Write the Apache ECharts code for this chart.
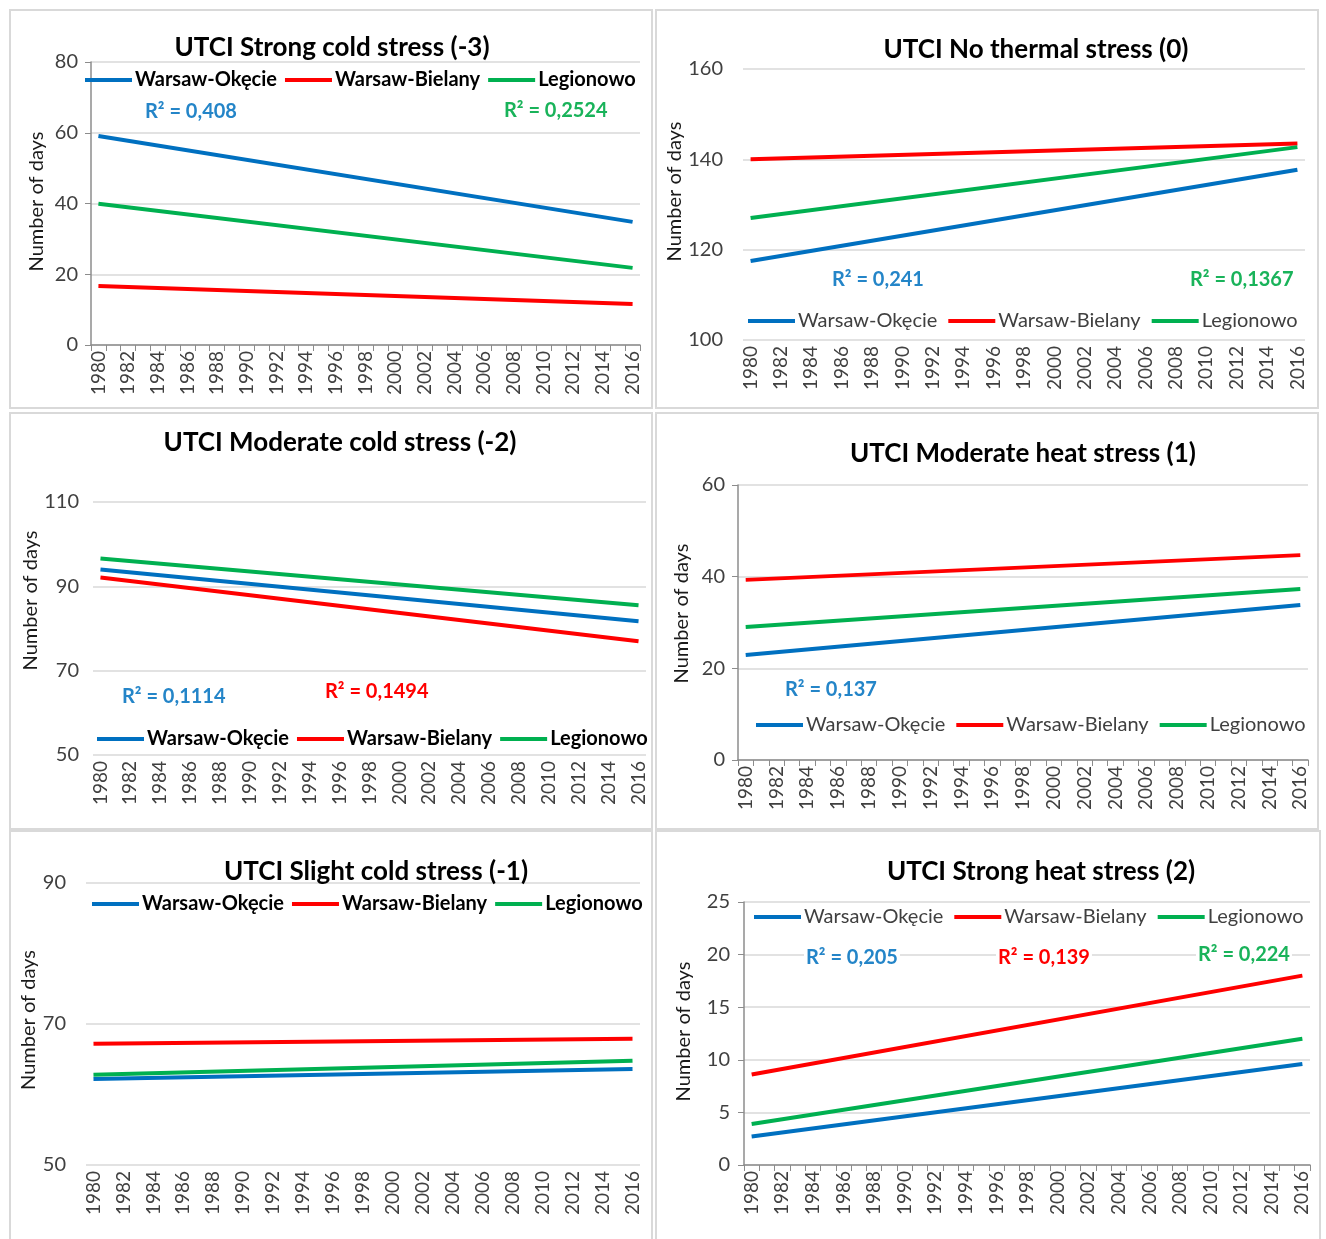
<!DOCTYPE html>
<html>
<head>
<meta charset="utf-8">
<script src="https://cdn.jsdelivr.net/npm/echarts@6/dist/echarts.min.js"></script>
<style>
  html, body { margin: 0; padding: 0; background: #fff; }
  #main { width: 1326px; height: 1239px; }
</style>
</head>
<body>
<div id="main"></div>
<script>
// categories
const years = ['1980', '1981', '1982', '1983', '1984', '1985', '1986', '1987', '1988', '1989',
  '1990', '1991', '1992', '1993', '1994', '1995', '1996', '1997', '1998', '1999',
  '2000', '2001', '2002', '2003', '2004', '2005', '2006', '2007', '2008', '2009',
  '2010', '2011', '2012', '2013', '2014', '2015', '2016'];

const panelTitles = [
  'UTCI Strong cold stress (-3)',
  'UTCI No thermal stress (0)',
  'UTCI Moderate cold stress (-2)',
  'UTCI Moderate heat stress (1)',
  'UTCI Slight cold stress (-1)',
  'UTCI Strong heat stress (2)'
];

const stations = ['Warsaw-Okęcie', 'Warsaw-Bielany', 'Legionowo'];

// trend line values [1980, 2016] for each panel
const okecieTrend = [[59.1, 34.8], [117.5, 137.7], [94.0, 81.7], [22.9, 33.8], [62.2, 63.6], [2.7, 9.6]];
const bielanyTrend = [[16.7, 11.6], [140.0, 143.5], [92.1, 77.0], [39.3, 44.7], [67.2, 67.9], [8.6, 18.0]];
const legionowoTrend = [[39.9, 21.8], [127.0, 142.7], [96.6, 85.5], [29.0, 37.3], [62.8, 64.8], [3.9, 12.0]];

// y axis ticks
const yMin = [0, 100, 50, 0, 50, 0];
const yMax = [80, 160, 110, 60, 90, 25];
const yStep = [20, 20, 20, 20, 20, 5];

// R² labels per panel: [station index, text]
const r2Labels = [
  [[0, 'R² = 0,408'], [2, 'R² = 0,2524']],
  [[0, 'R² = 0,241'], [2, 'R² = 0,1367']],
  [[0, 'R² = 0,1114'], [1, 'R² = 0,1494']],
  [[0, 'R² = 0,137']],
  [],
  [[0, 'R² = 0,205'], [1, 'R² = 0,139'], [2, 'R² = 0,224']]
];

const lineColors = ['#0070C0', '#FF0000', '#00B050'];
const labelColors = ['#2485C8', '#FF0000', '#19B35A'];
const trends = [okecieTrend, bielanyTrend, legionowoTrend];

// layout (pixels)
const grids = [
  { left: 91, top: 62, width: 549, height: 283 },
  { left: 743, top: 69, width: 562, height: 271 },
  { left: 93, top: 502, width: 553, height: 253 },
  { left: 738, top: 485, width: 570, height: 275 },
  { left: 86, top: 883, width: 554, height: 282 },
  { left: 744, top: 902, width: 566, height: 263 }
];
const axisShown = [true, false, false, true, false, true];
const titlePos = [[332, 51], [1036, 53], [340, 446], [1023, 457], [376, 875], [1041, 875]];
const legendPos = [[85, 82], [748, 323], [97, 741], [756, 727], [92, 906], [754, 919]];
const legendBold = [true, false, true, false, true, false];
const nameGap = [44, 54, 46, 46, 39, 50];
const nameShift = [2, 13, 28, 9, 4, 2];
const yLabelMargin = [13, 20, 14, 13, 20, 14];
const r2Pos = [
  [[143, 112], [502, 111]],
  [[830, 280], [1188, 280]],
  [[120, 697], [323, 692]],
  [[783, 690]],
  [],
  [[804, 958], [996, 958], [1196, 955]]
];
const panelBoxes = [
  [10, 10, 642, 398], [656, 10, 662, 398],
  [10, 413, 642, 416], [656, 413, 662, 416],
  [10, 831, 642, 410], [656, 831, 664, 410]
];

function trendData(pair) {
  const arr = years.map(() => null);
  arr[0] = pair[0];
  arr[years.length - 1] = pair[1];
  return arr;
}

const chart = echarts.init(document.getElementById('main'));

let titles = [], legends = [], xAxes = [], yAxes = [], series = [], graphics = [];

panelBoxes.forEach(function (b) {
  graphics.push({
    type: 'rect', z: -1, silent: true,
    shape: { x: b[0], y: b[1], width: b[2], height: b[3] },
    style: { fill: '#fff', stroke: '#D9D9D9', lineWidth: 2 }
  });
});

for (let p = 0; p < 6; p++) {
  titles.push({
    text: panelTitles[p],
    left: titlePos[p][0],
    top: titlePos[p][1] - 16,
    textAlign: 'center',
    padding: 0,
    textStyle: { fontFamily: 'Lato', fontSize: 26, fontWeight: 'bold', color: '#000' }
  });
  legends.push({
    data: stations,
    left: legendPos[p][0],
    top: legendPos[p][1] - 12,
    padding: 0,
    icon: 'rect',
    itemWidth: 47,
    itemHeight: 4,
    itemGap: legendBold[p] ? 8 : 11,
    textStyle: {
      fontFamily: 'Lato', fontSize: 20,
      fontWeight: legendBold[p] ? 'bold' : 'normal',
      color: legendBold[p] ? '#000' : '#404040', padding: [0, 0, 0, -2]
    }
  });
  xAxes.push({
    gridIndex: p,
    type: 'category',
    data: years,
    boundaryGap: true,
    axisLine: { show: axisShown[p], lineStyle: { color: '#8C8C8C', width: 1.5 } },
    axisTick: { show: axisShown[p], interval: 0, length: 6, lineStyle: { color: '#8C8C8C' } },
    axisLabel: { interval: 1, rotate: 90, margin: 6, fontFamily: 'Lato', fontSize: 19, color: '#404040' },
    splitLine: { show: false }
  });
  yAxes.push({
    gridIndex: p,
    type: 'value',
    min: yMin[p],
    max: yMax[p],
    interval: yStep[p],
    name: 'Number of days',
    nameLocation: 'middle',
    nameGap: nameGap[p],
    nameTextStyle: {
      fontFamily: 'Lato', fontSize: 20, color: '#1a1a1a',
      padding: [0, 0, 0, nameShift[p] * 2]
    },
    axisLine: { show: axisShown[p], lineStyle: { color: '#8C8C8C', width: 1.5 } },
    axisTick: { show: axisShown[p], length: 6, lineStyle: { color: '#8C8C8C' } },
    axisLabel: { margin: yLabelMargin[p], fontFamily: 'Lato', fontSize: 20, color: '#404040' },
    splitLine: { show: true, lineStyle: { color: '#D9D9D9', width: 1.5 } }
  });
  for (let s = 0; s < 3; s++) {
    series.push({
      name: stations[s],
      type: 'line',
      xAxisIndex: p,
      yAxisIndex: p,
      data: trendData(trends[s][p]),
      connectNulls: true,
      symbol: 'none',
      lineStyle: { color: lineColors[s], width: 4 },
      itemStyle: { color: lineColors[s] }
    });
  }
  r2Labels[p].forEach(function (lab, i) {
    graphics.push({
      type: 'text',
      z: 100,
      x: r2Pos[p][i][0],
      y: r2Pos[p][i][1],
      style: {
        text: lab[1],
        fill: labelColors[lab[0]],
        font: 'bold 20px Lato',
        verticalAlign: 'middle',
        backgroundColor: '#fff',
        padding: [1, 2]
      }
    });
  });
}

chart.setOption({
  animation: false,
  backgroundColor: '#fff',
  title: titles,
  legend: legends,
  grid: grids,
  xAxis: xAxes,
  yAxis: yAxes,
  series: series,
  graphic: graphics
});
</script>
</body>
</html>
